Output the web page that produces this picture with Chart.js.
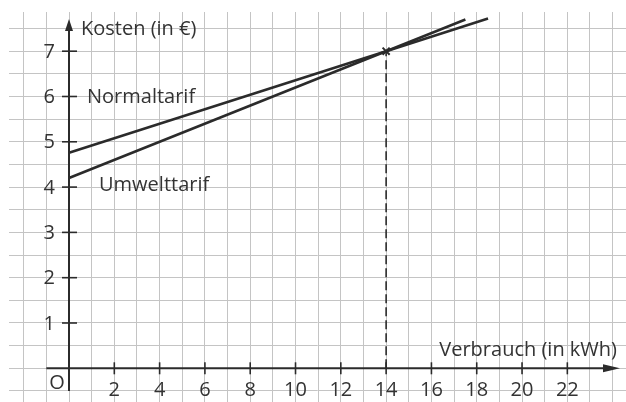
<!DOCTYPE html>
<html>
<head>
<meta charset="utf-8">
<script src="https://cdn.jsdelivr.net/npm/chart.js@4.4.1/dist/chart.umd.min.js"></script>
<style>
  html, body { margin: 0; padding: 0; background: #ffffff; }
  #wrap { width: 626px; height: 402px; }
</style>
</head>
<body>
<div id="wrap"><canvas id="c" width="626" height="402"></canvas></div>
<script>
// ---- data ----
const normalX = [0, 14, 18.5];
const normalY = [4.76, 7.0, 7.72];
const umweltX = [0, 14, 17.5];
const umweltY = [4.2, 7.0, 7.7];
const intersectX = [14];
const intersectY = [7];
const xTickLabels = [2, 4, 6, 8, 10, 12, 14, 16, 18, 20, 22];
const yTickLabels = [1, 2, 3, 4, 5, 6, 7];
const xTitle = 'Verbrauch (in kWh)';
const yTitle = 'Kosten (in €)';
const seriesNames = ['Normaltarif', 'Umwelttarif'];

const toPts = (xs, ys) => xs.map((x, i) => ({x: x, y: ys[i]}));

const INK = '#2b2b2b';
const TXT = '#333333';
const FONT = '"Open Sans", "Noto Sans", sans-serif';

const overlay = {
  id: 'overlay',
  afterDatasetsDraw(chart) {
    const ctx = chart.ctx;
    const xs = chart.scales.x, ys = chart.scales.y;
    const x0 = xs.getPixelForValue(0), y0 = ys.getPixelForValue(0);
    ctx.save();
    ctx.strokeStyle = INK;
    ctx.fillStyle = INK;
    ctx.lineWidth = 2;
    // y axis
    ctx.beginPath();
    ctx.moveTo(x0, ys.getPixelForValue(-0.5));
    ctx.lineTo(x0, 26);
    ctx.stroke();
    ctx.beginPath();
    ctx.moveTo(x0, 19); ctx.lineTo(x0 - 4, 31); ctx.lineTo(x0 + 4, 31); ctx.closePath(); ctx.fill();
    // x axis
    ctx.beginPath();
    ctx.moveTo(xs.getPixelForValue(-1), y0);
    ctx.lineTo(612, y0);
    ctx.stroke();
    ctx.beginPath();
    ctx.moveTo(620, y0); ctx.lineTo(603, y0 - 4); ctx.lineTo(603, y0 + 4); ctx.closePath(); ctx.fill();
    // ticks
    ctx.lineWidth = 1.6;
    xTickLabels.forEach(v => {
      const p = xs.getPixelForValue(v);
      ctx.beginPath(); ctx.moveTo(p, y0 - 6); ctx.lineTo(p, y0 + 6); ctx.stroke();
    });
    yTickLabels.forEach(v => {
      const p = ys.getPixelForValue(v);
      ctx.beginPath(); ctx.moveTo(x0 - 7, p); ctx.lineTo(x0 + 8, p); ctx.stroke();
    });
    // labels
    ctx.fillStyle = TXT;
    ctx.font = '20px ' + FONT;
    ctx.textBaseline = 'middle';
    ctx.textAlign = 'center';
    xTickLabels.forEach(v => {
      ctx.fillText(String(v), xs.getPixelForValue(v), y0 + 22);
    });
    ctx.textAlign = 'right';
    yTickLabels.forEach(v => {
      ctx.fillText(String(v), x0 - 14, ys.getPixelForValue(v) + 1);
    });
    ctx.textAlign = 'center';
    ctx.fillText('O', x0 - 12, y0 + 15);
    ctx.textAlign = 'left';
    ctx.fillText(yTitle, x0 + 12, 29);
    ctx.textAlign = 'right';
    ctx.fillText(xTitle, 617, y0 - 18);
    ctx.textAlign = 'left';
    ctx.fillText(seriesNames[0], x0 + 18, ys.getPixelForValue(6) + 1);
    ctx.fillText(seriesNames[1], x0 + 30, ys.getPixelForValue(4) - 2);
    ctx.restore();
  }
};

const gridTicks = (from, to, step) => s => {
  const t = [];
  for (let v = from; v <= to + 1e-9; v += step) t.push({value: Math.round(v * 10) / 10});
  s.ticks = t;
};

new Chart(document.getElementById('c'), {
  type: 'scatter',
  data: {
    datasets: [
      { label: seriesNames[0], data: toPts(normalX, normalY), showLine: true, borderColor: INK, borderWidth: 2.6, pointRadius: 0, order: 1 },
      { label: seriesNames[1], data: toPts(umweltX, umweltY), showLine: true, borderColor: INK, borderWidth: 2.6, pointRadius: 0, order: 1 },
      { label: 'guide', data: [{x: intersectX[0], y: 0}, {x: intersectX[0], y: intersectY[0]}], showLine: true, borderColor: INK, borderWidth: 1.6, borderDash: [9, 4], pointRadius: 0, order: 2 },
      { label: 'Schnittpunkt', data: toPts(intersectX, intersectY), pointStyle: 'crossRot', pointRadius: 5, borderWidth: 2, borderColor: INK, order: 0 }
    ]
  },
  options: {
    responsive: false,
    animation: false,
    events: [],
    layout: { autoPadding: false, padding: { left: 9, top: 12, right: 0, bottom: 0 } },
    plugins: { legend: { display: false }, tooltip: { enabled: false } },
    scales: {
      x: {
        type: 'linear', min: -2.649, max: 24.59,
        afterBuildTicks: gridTicks(-2, 24, 1),
        ticks: { display: false },
        grid: { color: '#c4c4c4', lineWidth: 1, drawTicks: false },
        border: { display: false }
      },
      y: {
        type: 'linear', min: -0.744, max: 7.865,
        afterBuildTicks: gridTicks(-0.5, 7.5, 0.5),
        ticks: { display: false },
        grid: { color: '#c4c4c4', lineWidth: 1, drawTicks: false },
        border: { display: false }
      }
    }
  },
  plugins: [overlay]
});
</script>
</body>
</html>
